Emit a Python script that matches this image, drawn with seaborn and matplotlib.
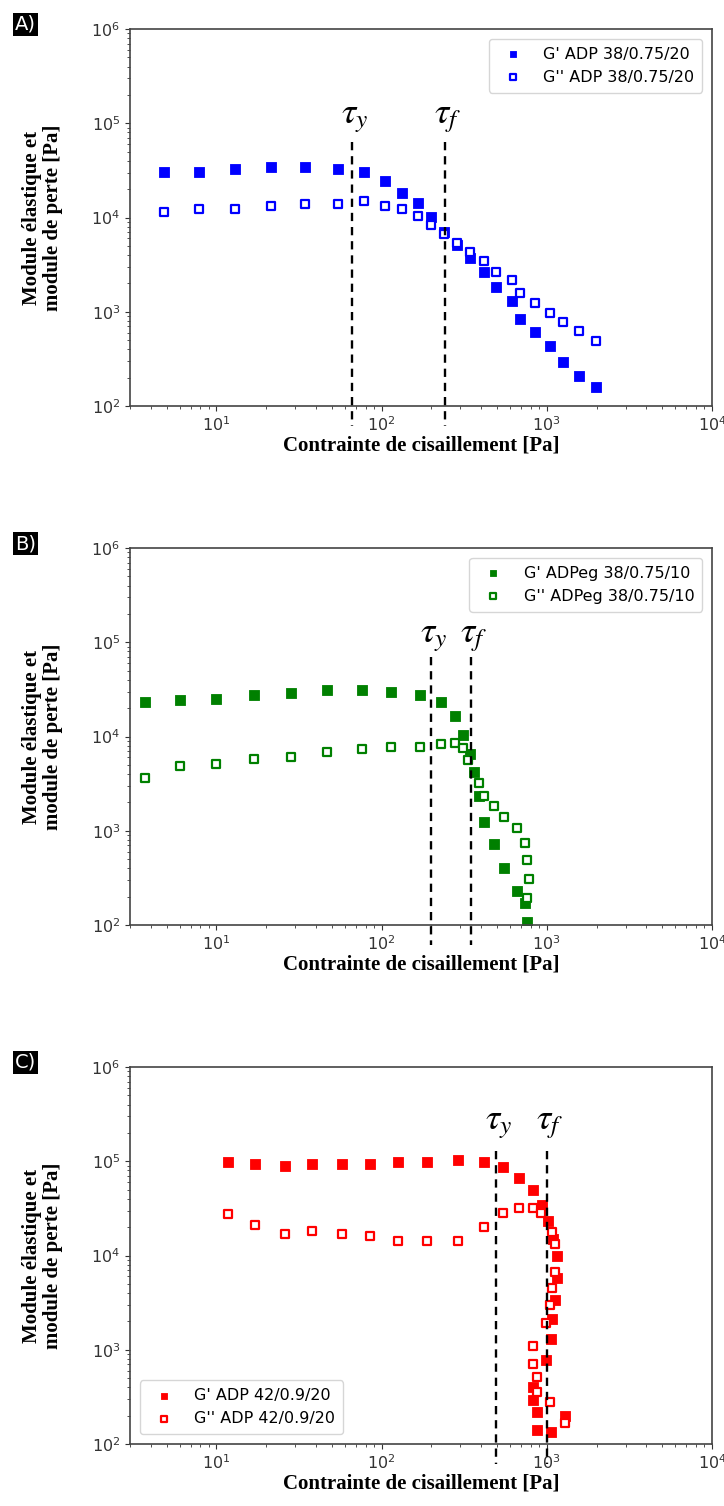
import matplotlib
matplotlib.use("Agg")
import matplotlib.pyplot as plt
import seaborn as sns

plt.rcParams['mathtext.fontset'] = 'stix'

# Panel A : ADP 38/0.75/20
a_stress = [4.8, 7.8, 12.9, 21.4, 34.6, 54.5, 78, 104.5, 133, 165, 200, 240,
            285, 345, 419, 496, 617, 693, 843, 1048, 1261, 1575, 1990]
a_g1 = [30500, 30500, 33100, 34500, 34500, 33100, 30500, 24600, 18300, 14100, 10100, 7000,
        5150, 3700, 2670, 1820, 1300, 840, 610, 430, 290, 207, 161]
a_g2 = [11400, 12400, 12400, 13400, 14000, 14000, 14800, 13400, 12400, 10300, 8400, 6700,
        5300, 4300, 3450, 2670, 2160, 1600, 1250, 970, 780, 630, 490]
a_tau = [66, 241]

# Panel B : ADPeg 38/0.75/10
b_stress1 = [3.72, 6.0, 9.9, 16.8, 28.4, 47, 76, 114, 172, 229, 278, 313, 342, 363,
             389, 417, 478, 549, 660, 741, 762]
b_g1 = [23000, 24200, 25200, 27300, 28700, 31100, 31100, 29900, 27300, 23200, 16600, 10400,
        6500, 4150, 2350, 1240, 720, 400, 230, 170, 108]
b_stress2 = [3.72, 6.0, 9.9, 16.8, 28.4, 47, 76, 114, 172, 229, 278, 313, 334, 387,
             417, 478, 549, 660, 741, 762, 776, 762]
b_g2 = [3590, 4810, 5050, 5710, 6000, 6780, 7410, 7720, 7720, 8380, 8450, 7470, 5670, 3200,
        2350, 1810, 1400, 1060, 750, 490, 306, 195]
b_tau = [198, 348]

# Panel C : ADP 42/0.9/20
c_stress1 = [11.7, 17.1, 26.1, 38.0, 57.7, 85, 125, 189, 290, 416, 545, 675, 824, 930,
             1020, 1084, 1146, 1156, 1124, 1078, 1059, 991, 824, 824, 868, 868, 1059, 1292]
c_g1 = [99200, 93600, 89100, 93600, 93600, 93600, 99200, 99200, 102500, 98500, 87100, 66900,
        50100, 34100, 23000, 15100, 9830, 5810, 3350, 2100, 1300, 780, 400, 290, 216, 140,
        135, 199]
c_stress2 = [11.7, 17.1, 26.1, 38.0, 57.7, 85, 125, 189, 290, 416, 545, 675, 824, 921,
             1078, 1124, 1124, 1078, 1044, 987, 824, 824, 868, 868, 1044, 1292]
c_g2 = [27300, 21000, 16900, 18400, 16900, 16250, 14250, 14250, 14250, 20100, 28200, 32100,
        32100, 28200, 17800, 13100, 6740, 4470, 2960, 1910, 1090, 710, 510, 360, 280, 167]
c_tau = [490, 1006]

XLABEL = "Contrainte de cisaillement [Pa]"
YLABEL = "Module élastique et\nmodule de perte [Pa]"
SERIF = ['Liberation Serif', 'DejaVu Serif']


def draw_panel(ax, x1, y1, x2, y2, color, name, taus, line_top, tau_text_y, loc):
    sns.scatterplot(x=x1, y=y1, marker='s', color=color, edgecolor=color,
                    s=42, linewidth=0.6, label="G' " + name, ax=ax)
    sns.scatterplot(x=x2, y=y2, marker='s', color=color, facecolor='white',
                    edgecolor=color, s=36, linewidth=1.6, label="G'' " + name, ax=ax)

    # yield stress and flow stress
    for t, lab in zip(taus, [r'$\tau_y$', r'$\tau_f$']):
        ax.plot([t, t], [line_top, 62], color='black', lw=1.7, dashes=(3.5, 2.5),
                clip_on=False, zorder=5)
        ax.text(t * 1.04, tau_text_y, lab, ha='center', va='center', fontsize=26,
                color='black')

    ax.set_xscale('log')
    ax.set_yscale('log')
    ax.set_xlim(3, 1e4)
    ax.set_ylim(1e2, 1e6)
    ax.set_xlabel(XLABEL, family=SERIF, fontweight='bold', fontsize=15, labelpad=1)
    ax.set_ylabel(YLABEL, family=SERIF, fontweight='bold', fontsize=15, linespacing=1.1)
    ax.yaxis.set_label_coords(-0.115, 0.5)
    ax.tick_params(labelsize=11.5, colors='#333333', which='both')
    for sp in ax.spines.values():
        sp.set_color('#444444')
        sp.set_linewidth(1.2)
    ax.legend(loc=loc, fontsize=11.5, borderaxespad=0.6, handletextpad=0.9,
              borderpad=0.5, labelspacing=0.5, markerscale=0.75)


fig = plt.figure(figsize=(7.24, 15.06), dpi=100)
W, H = 724, 1506
left = 130 / W
width = (712 - 130) / W
height = 377 / H

panels = [
    (29, 'A)', a_stress, a_g1, a_stress, a_g2, '#0000ff', 'ADP 38/0.75/20', a_tau, 6.4e4, 1.15e5, 'upper right'),
    (548, 'B)', b_stress1, b_g1, b_stress2, b_g2, 'green', 'ADPeg 38/0.75/10', b_tau, 6.9e4, 1.15e5, 'upper right'),
    (1067, 'C)', c_stress1, c_g1, c_stress2, c_g2, '#ff0000', 'ADP 42/0.9/20', c_tau, 1.3e5, 2.5e5, 'lower left'),
]

for top, tag, x1, y1, x2, y2, col, name, taus, ltop, ty, loc in panels:
    ax = fig.add_axes([left, 1 - (top + 377) / H, width, height])
    draw_panel(ax, x1, y1, x2, y2, col, name, taus, ltop, ty, loc)
    fig.text(15 / W, 1 - (top - 14) / H, tag, color='white', fontsize=14, va='top', ha='left',
             bbox=dict(facecolor='black', edgecolor='none', pad=1.5))

fig.savefig('out.png', dpi=100)
